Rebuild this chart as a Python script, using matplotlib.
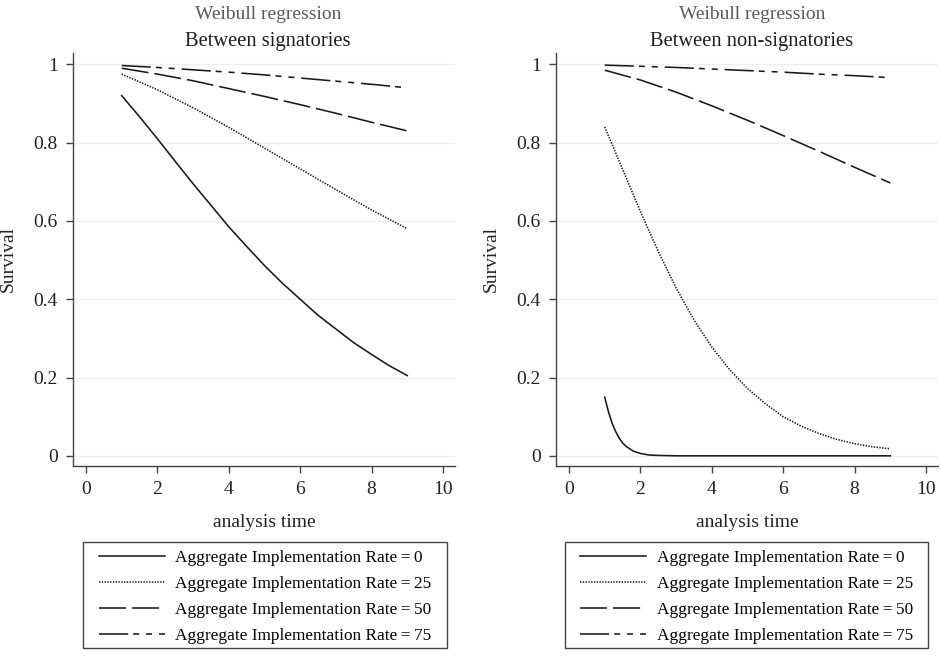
import matplotlib
matplotlib.use("Agg")
import matplotlib.pyplot as plt
from matplotlib.patches import Rectangle

plt.rcParams['font.family'] = ['Liberation Serif', 'DejaVu Serif']
plt.rcParams['lines.scale_dashes'] = False

# analysis time grids
T_INT = [1, 2, 3, 4, 5, 6, 7, 8, 9]
T_HALF = [1, 1.5, 2, 2.5, 3, 3.5, 4, 4.5, 5, 5.5, 6, 6.5, 7, 7.5, 8, 8.5, 9]
T_FINE = [1, 1.1, 1.2, 1.3, 1.4, 1.5, 1.6, 1.8, 2, 2.25, 2.5, 3, 4, 5, 6, 7, 8, 9]

# between signatories (survival)
sig_0 = [0.920, 0.866, 0.810, 0.752, 0.695, 0.640, 0.585, 0.535, 0.486,
         0.441, 0.400, 0.359, 0.324, 0.289, 0.259, 0.230, 0.205]
sig_25 = [0.975, 0.935, 0.889, 0.839, 0.786, 0.733, 0.680, 0.628, 0.580]
sig_50 = [0.990, 0.975, 0.958, 0.938, 0.918, 0.897, 0.875, 0.852, 0.830]
sig_75 = [0.997, 0.992, 0.986, 0.980, 0.973, 0.965, 0.957, 0.949, 0.940]

# between non-signatories (survival)
non_0 = [0.150, 0.114, 0.085, 0.063, 0.046, 0.033, 0.024, 0.012, 0.006,
         0.002, 0.001, 0.0, 0.0, 0.0, 0.0, 0.0, 0.0, 0.0]
non_25 = [0.840, 0.732, 0.624, 0.522, 0.429, 0.347, 0.278, 0.220, 0.172,
          0.133, 0.100, 0.076, 0.057, 0.042, 0.031, 0.023, 0.018]
non_50 = [0.985, 0.960, 0.929, 0.894, 0.857, 0.818, 0.778, 0.737, 0.697]
non_75 = [0.998, 0.995, 0.992, 0.988, 0.984, 0.980, 0.975, 0.971, 0.966]

rates = ['0', '25', '50', '75']
subtitles = ['Between signatories', 'Between non-signatories']

styles = [dict(linestyle='-'),
          dict(linestyle=(0, (1.0, 1.0))),
          dict(linestyle=(0, (19.5, 4.3))),
          dict(linestyle=(0, (21, 3.6, 4.3, 5, 4.3, 5)))]

ink = '#1a1a1a'

fig = plt.figure(figsize=(9.41, 6.58), dpi=100)
ax1 = fig.add_axes([0.0776, 0.2918, 0.406, 0.6277])
ax2 = fig.add_axes([0.5909, 0.2918, 0.406, 0.6277])

panels = [
    (ax1, [(T_HALF, sig_0), (T_INT, sig_25), (T_INT, sig_50), (T_INT, sig_75)]),
    (ax2, [(T_FINE, non_0), (T_HALF, non_25), (T_INT, non_50), (T_INT, non_75)]),
]

for ax, series in panels:
    for (t, s), st, r in zip(series, styles, rates):
        ax.plot(t, s, color=ink, lw=1.15, label='Aggregate Implementation Rate\u2009=\u2009' + r, **st)
    ax.set_xlim(-0.364, 10.34)
    ax.set_ylim(-0.026, 1.029)
    ax.set_xticks([0, 2, 4, 6, 8, 10])
    ax.set_yticks([0, 0.2, 0.4, 0.6, 0.8, 1])
    ax.set_yticklabels(['0', '0.2', '0.4', '0.6', '0.8', '1'])
    ax.grid(axis='y', color='#eeeeee', lw=0.9)
    ax.set_axisbelow(True)
    for side in ['top', 'right']:
        ax.spines[side].set_visible(False)
    for side in ['left', 'bottom']:
        ax.spines[side].set_color('#444444')
        ax.spines[side].set_linewidth(1.0)
    ax.tick_params(length=5, width=1.0, color='#444444', labelsize=14,
                   labelcolor='#222222', pad=6)
    ax.set_xlabel('analysis time', fontsize=14, color='#222222', labelpad=11)
    ax.set_ylabel('Survival', fontsize=14, color='#222222', labelpad=12)

# titles
for xc, sub in zip([268 / 941, 752 / 941], subtitles):
    fig.text(xc, 1 - 19 / 658, 'Weibull regression', ha='center', va='baseline',
             fontsize=14, color='#5a5a5a')
    fig.text(xc, 1 - 46 / 658, sub, ha='center', va='baseline',
             fontsize=14.8, color='#1e1e1e')

# legend boxes under each panel
for ax, x0, x1 in [(ax1, 83, 447), (ax2, 565, 928)]:
    fig.add_artist(Rectangle((x0 / 941, 1 - 648 / 658), (x1 - x0) / 941, 106 / 658,
                             transform=fig.transFigure, fill=False,
                             edgecolor='#444444', lw=1.0))
    h, l = ax.get_legend_handles_labels()
    fig.legend(h, l, loc='center', bbox_to_anchor=((x0 + x1) / 2 / 941, 1 - 597 / 658),
               frameon=False, fontsize=12.4, handlelength=3.85, handletextpad=0.6,
               labelspacing=0.58, borderpad=0)

fig.savefig('out.png', dpi=100)
